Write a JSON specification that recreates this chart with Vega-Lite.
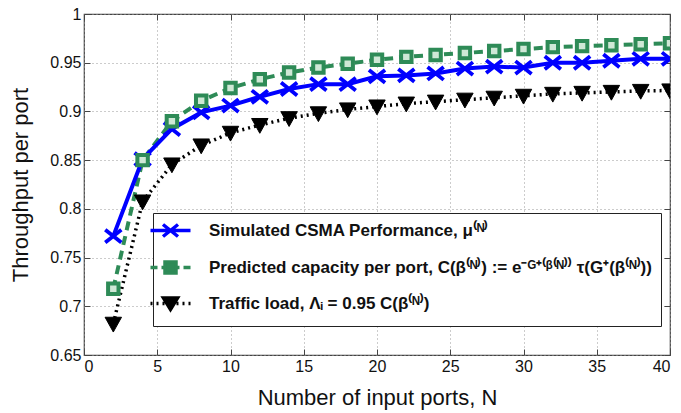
{
  "$schema": "https://vega.github.io/schema/vega-lite/v6.json",
  "width": 586,
  "height": 341,
  "autosize": {"type": "none"},
  "padding": {"left": 84, "top": 14, "right": 11, "bottom": 58},
  "background": "white",
  "config": {
    "font": "Liberation Sans",
    "view": {"stroke": "#444", "strokeWidth": 1.2},
    "axis": {
      "labelFont": "Liberation Sans",
      "titleFont": "Liberation Sans",
      "labelFontSize": 16,
      "titleFontSize": 22,
      "titleFontWeight": "normal",
      "labelColor": "#111",
      "titleColor": "#111",
      "domain": false,
      "tickColor": "#444",
      "tickSize": -6,
      "labelPadding": 9,
      "gridColor": "#999",
      "gridDash": [1, 3],
      "gridWidth": 1
    }
  },
  "data": {
    "values": [
      {"N": 2, "series": "S", "value": 0.772},
      {"N": 4, "series": "S", "value": 0.851},
      {"N": 6, "series": "S", "value": 0.882},
      {"N": 8, "series": "S", "value": 0.899},
      {"N": 10, "series": "S", "value": 0.906},
      {"N": 12, "series": "S", "value": 0.915},
      {"N": 14, "series": "S", "value": 0.923},
      {"N": 16, "series": "S", "value": 0.928},
      {"N": 18, "series": "S", "value": 0.928},
      {"N": 20, "series": "S", "value": 0.936},
      {"N": 22, "series": "S", "value": 0.937},
      {"N": 24, "series": "S", "value": 0.939},
      {"N": 26, "series": "S", "value": 0.944},
      {"N": 28, "series": "S", "value": 0.946},
      {"N": 30, "series": "S", "value": 0.945},
      {"N": 32, "series": "S", "value": 0.950},
      {"N": 34, "series": "S", "value": 0.950},
      {"N": 36, "series": "S", "value": 0.952},
      {"N": 38, "series": "S", "value": 0.954},
      {"N": 40, "series": "S", "value": 0.954},
      {"N": 2, "series": "P", "value": 0.718},
      {"N": 4, "series": "P", "value": 0.850},
      {"N": 6, "series": "P", "value": 0.890},
      {"N": 8, "series": "P", "value": 0.911},
      {"N": 10, "series": "P", "value": 0.924},
      {"N": 12, "series": "P", "value": 0.933},
      {"N": 14, "series": "P", "value": 0.940},
      {"N": 16, "series": "P", "value": 0.945},
      {"N": 18, "series": "P", "value": 0.949},
      {"N": 20, "series": "P", "value": 0.953},
      {"N": 22, "series": "P", "value": 0.956},
      {"N": 24, "series": "P", "value": 0.958},
      {"N": 26, "series": "P", "value": 0.960},
      {"N": 28, "series": "P", "value": 0.962},
      {"N": 30, "series": "P", "value": 0.964},
      {"N": 32, "series": "P", "value": 0.966},
      {"N": 34, "series": "P", "value": 0.967},
      {"N": 36, "series": "P", "value": 0.968},
      {"N": 38, "series": "P", "value": 0.969},
      {"N": 40, "series": "P", "value": 0.970},
      {"N": 2, "series": "T", "value": 0.682},
      {"N": 4, "series": "T", "value": 0.8075},
      {"N": 6, "series": "T", "value": 0.8455},
      {"N": 8, "series": "T", "value": 0.865},
      {"N": 10, "series": "T", "value": 0.878},
      {"N": 12, "series": "T", "value": 0.886},
      {"N": 14, "series": "T", "value": 0.893},
      {"N": 16, "series": "T", "value": 0.898},
      {"N": 18, "series": "T", "value": 0.902},
      {"N": 20, "series": "T", "value": 0.905},
      {"N": 22, "series": "T", "value": 0.908},
      {"N": 24, "series": "T", "value": 0.910},
      {"N": 26, "series": "T", "value": 0.912},
      {"N": 28, "series": "T", "value": 0.914},
      {"N": 30, "series": "T", "value": 0.916},
      {"N": 32, "series": "T", "value": 0.918},
      {"N": 34, "series": "T", "value": 0.919},
      {"N": 36, "series": "T", "value": 0.920},
      {"N": 38, "series": "T", "value": 0.921},
      {"N": 40, "series": "T", "value": 0.9215}
    ]
  },
  "resolve": {"axis": {"x": "independent", "y": "independent"}},
  "layer": [
    {
      "encoding": {
        "x": {"field": "N", "type": "quantitative", "scale": {"domain": [0, 40], "nice": false}, "axis": {"values": [0, 5, 10, 15, 20, 25, 30, 35, 40], "title": "Number of input ports, N", "titleBaseline": "top", "titleY": 32, "grid": true}},
        "y": {"field": "value", "type": "quantitative", "scale": {"domain": [0.65, 1], "nice": false, "zero": false}, "axis": {"values": [0.65, 0.7, 0.75, 0.8, 0.85, 0.9, 0.95, 1], "format": "~g", "title": "Throughput per port", "titleBaseline": "top", "titleX": -74, "grid": true}}
      },
      "layer": [
        {
          "transform": [{"filter": "datum.series === 'P'"}],
          "mark": {"type": "line", "strokeWidth": 4, "strokeDash": [9, 6], "clip": true},
          "encoding": {
            "color": {
              "field": "series", "type": "nominal",
              "scale": {"domain": ["S", "P", "T"], "range": ["#0000ff", "#2e8b57", "#000000"]},
              "legend": {
                "title": null,
                "orient": "none",
                "legendX": 69,
                "legendY": 199,
                "fillColor": "white",
                "strokeColor": "#222",
                "padding": 9,
                "labelFont": "Liberation Sans",
                "labelFontSize": 17,
                "labelFontWeight": "bold",
                "labelColor": "#111",
                "labelLimit": 0,
                "labelOffset": 30,
                "rowPadding": 11,
                "symbolSize": 100,
                "labelExpr": "datum.value === 'S' ? 'Simulated CSMA Performance, μ⁽ᴺ⁾' : (datum.value === 'P' ? 'Predicted capacity per port, C(β⁽ᴺ⁾) := e⁻ᴳ⁺⁽ᵝ⁽ᴺ⁾⁾ τ(G⁺(β⁽ᴺ⁾))' : 'Traffic load, Λᵢ = 0.95 C(β⁽ᴺ⁾)')",
                "encode": {
                  "symbols": {
                    "update": {
                      "shape": {"signal": "datum.value === 'S' ? 'M-4,0H4M-1.5,-1.2L1.5,1.2M-1.5,1.2L1.5,-1.2' : (datum.value === 'P' ? 'M-4,0H-2.6M-1.8,0H-1.3M1.3,0H1.8M2.6,0H4M-1.1,-1.1H1.1V1.1H-1.1Z' : 'M-4,0H-3.6M-2.8,0H-2.4M-1.6,0H-1.2M1.2,0H1.6M2.4,0H2.8M3.6,0H4M-1.4,-1.1L1.4,-1.1L0,1.2Z')"},
                      "fill": {"signal": "datum.value === 'S' ? 'transparent' : (datum.value === 'P' ? '#2e8b57' : '#000')"},
                      "stroke": {"signal": "datum.value === 'S' ? '#0000ff' : (datum.value === 'P' ? '#2e8b57' : '#000')"},
                      "strokeWidth": {"value": 3.5},
                      "strokeDash": {"value": []},
                      "size": {"value": 100},
                      "opacity": {"value": 1}
                    }
                  }
                }
              }
            }
          }
        },
        {
          "transform": [{"filter": "datum.series === 'S'"}],
          "mark": {"type": "line", "strokeWidth": 4, "color": "#0000ff", "clip": true}
        },
        {
          "transform": [{"filter": "datum.series === 'T'"}],
          "mark": {"type": "line", "strokeWidth": 3.5, "strokeDash": [2, 4], "color": "#000000", "clip": true}
        },
        {
          "transform": [{"filter": "datum.series === 'S'"}],
          "mark": {"type": "point", "filled": false, "stroke": "#0000ff", "strokeWidth": 3.8, "opacity": 1, "size": 260, "shape": "M-1,-0.8L1,0.8M-1,0.8L1,-0.8", "clip": true}
        },
        {
          "transform": [{"filter": "datum.series === 'P'"}],
          "mark": {"type": "point", "filled": false, "stroke": "#2e8b57", "fill": "#cfe8d6", "strokeWidth": 4, "opacity": 1, "size": 170, "shape": "M-0.8,-0.8H0.8V0.8H-0.8Z", "clip": true}
        },
        {
          "transform": [{"filter": "datum.series === 'T'"}],
          "mark": {"type": "point", "filled": true, "fill": "#000000", "stroke": "#000000", "strokeWidth": 1, "opacity": 1, "size": 270, "shape": "M-1,-0.8L1,-0.8L0,1Z", "clip": true}
        }
      ]
    },
    {
      "mark": {"type": "point", "opacity": 0},
      "encoding": {
        "x": {"field": "N", "type": "quantitative", "axis": {"orient": "top", "values": [0, 5, 10, 15, 20, 25, 30, 35, 40], "labels": false, "title": null, "grid": false}},
        "y": {"field": "value", "type": "quantitative", "axis": {"orient": "right", "values": [0.65, 0.7, 0.75, 0.8, 0.85, 0.9, 0.95, 1], "labels": false, "title": null, "grid": false}}
      }
    }
  ]
}
